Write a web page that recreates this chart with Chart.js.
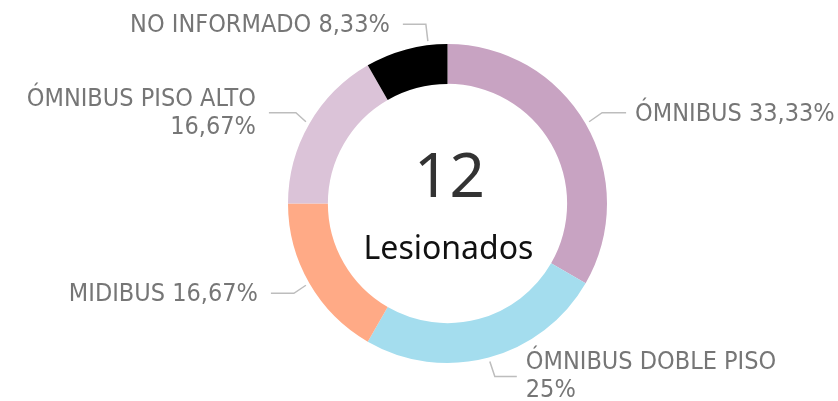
<!DOCTYPE html>
<html>
<head>
    <meta charset="utf-8">
    <title>Lesionados por tipo de bus</title>
    <script src="https://cdn.jsdelivr.net/npm/chart.js"></script>
    <style>
        html, body { margin: 0; padding: 0; background: #fff; }
        #wrap { width: 838px; height: 401px; }
    </style>
</head>
<body>
    <div id="wrap"><canvas id="lesionChart"></canvas></div>

    <script>
        const categories = ['ÓMNIBUS', 'ÓMNIBUS DOBLE PISO', 'MIDIBUS', 'ÓMNIBUS PISO ALTO', 'NO INFORMADO'];
        const lesionados = [4, 3, 2, 2, 1];
        const colors = ['#c8a3c2', '#a4ddee', '#ffaa86', '#dbc3d8', '#000000'];
        const centerTitle = 'Lesionados';

        // leader line layout per slice: where on the arc it starts, the elbow, the tail length and side
        const leaders = [
            { t: 0.5,  elbow: [13, -9],  len: 24, side: 1,  wrap: false },
            { t: 0.5,  elbow: [5, 15],   len: 22, side: 1,  wrap: true },
            { t: 0.5,  elbow: [-12, 8],  len: 23, side: -1, wrap: false },
            { t: 0.5,  elbow: [-10, -9], len: 27, side: -1, wrap: true },
            { t: 0.77, elbow: [-2, -17], len: 23, side: -1, wrap: false }
        ];

        const total = lesionados.reduce((a, b) => a + b, 0);

        function pct(v) {
            let s = (v / total * 100).toFixed(2).replace('.', ',');
            s = s.replace(/,00$/, '');
            return s + '%';
        }

        const labelFont = '25px "DejaVu Sans Condensed", Roboto, sans-serif';

        const doughnutLabels = {
            id: 'doughnutLabels',
            afterDraw(chart) {
                const ctx = chart.ctx;
                const arcs = chart.getDatasetMeta(0).data;
                ctx.save();

                arcs.forEach((arc, i) => {
                    const L = leaders[i];
                    const a = arc.startAngle + (arc.endAngle - arc.startAngle) * L.t;
                    const r = arc.outerRadius + 4;
                    const ax = arc.x + Math.cos(a) * r;
                    const ay = arc.y + Math.sin(a) * r;
                    const ex = ax + L.elbow[0];
                    const ey = ay + L.elbow[1];
                    const right = L.side > 0;
                    const tx = ex + L.side * L.len;

                    ctx.strokeStyle = '#bdbdbd';
                    ctx.lineWidth = 1.5;
                    ctx.beginPath();
                    ctx.moveTo(ax, ay);
                    ctx.lineTo(ex, ey);
                    ctx.lineTo(tx, ey);
                    ctx.stroke();

                    ctx.fillStyle = '#767676';
                    ctx.font = labelFont;
                    ctx.textBaseline = 'alphabetic';
                    ctx.textAlign = right ? 'left' : 'right';
                    const x = tx + (right ? 9 : -13);
                    const name = categories[i];
                    const p = pct(lesionados[i]);
                    if (L.wrap) {
                        ctx.fillText(name, x, ey - 7);
                        ctx.fillText(p, x, ey + 21);
                    } else {
                        ctx.fillText(name + ' ' + p, x, ey + 8);
                    }
                });

                // total in the middle of the ring
                const c = arcs[0];
                ctx.textAlign = 'center';
                ctx.textBaseline = 'alphabetic';
                ctx.fillStyle = '#333333';
                ctx.font = '62px "Noto Sans", "Open Sans", sans-serif';
                ctx.fillText(String(total), c.x + 2, c.y - 7);
                ctx.fillStyle = '#111111';
                ctx.font = '32px "Noto Sans", "Open Sans", sans-serif';
                ctx.fillText(centerTitle, c.x + 1, c.y + 55);

                ctx.restore();
            }
        };

        new Chart(document.getElementById('lesionChart'), {
            type: 'doughnut',
            data: {
                labels: categories,
                datasets: [{
                    data: lesionados,
                    backgroundColor: colors,
                    borderWidth: 0
                }]
            },
            options: {
                responsive: true,
                maintainAspectRatio: false,
                animation: false,
                cutout: '75%',
                layout: {
                    padding: { left: 100, right: 43, top: 44, bottom: 38 }
                },
                plugins: {
                    legend: { display: false },
                    tooltip: { enabled: false }
                }
            },
            plugins: [doughnutLabels]
        });
    </script>
</body>
</html>
